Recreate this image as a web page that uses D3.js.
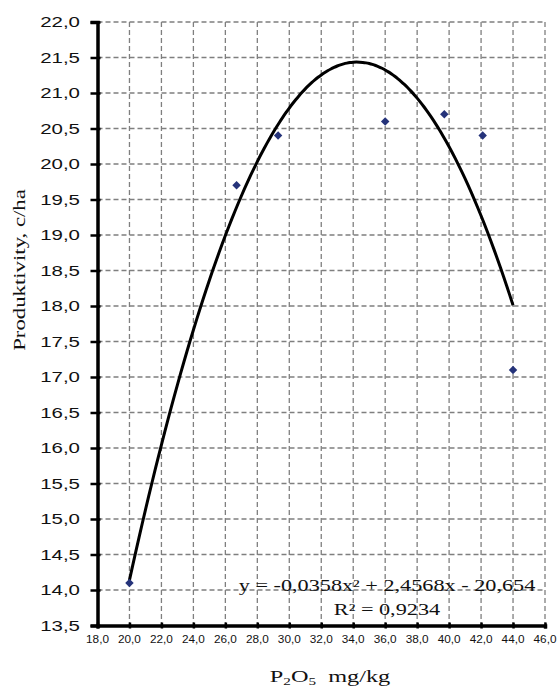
<!DOCTYPE html>
<html>
<head>
<meta charset="utf-8">
<script src="https://cdn.jsdelivr.net/npm/d3@7"></script>
<style>
  html, body { margin: 0; padding: 0; background: #fff; }
  #chart { width: 557px; height: 689px; }
  text { font-weight: normal; }
</style>
</head>
<body>
<div id="chart"></div>
<script>
// measured points: P2O5 (mg/kg) vs productivity (c/ha)
const p2o5 = [20.0, 26.7, 29.3, 36.0, 39.7, 42.1, 44.0];
const productivity = [14.1, 19.7, 20.4, 20.6, 20.7, 20.4, 17.1];

const xTicks = [18, 20, 22, 24, 26, 28, 30, 32, 34, 36, 38, 40, 42, 44, 46];
const yTicks = [13.5, 14, 14.5, 15, 15.5, 16, 16.5, 17, 17.5, 18, 18.5, 19, 19.5, 20, 20.5, 21, 21.5, 22];

const equationLines = ["y = -0,0358x² + 2,4568x - 20,654", "R² = 0,9234"];

const W = 557, H = 689;
const margin = { left: 97.5, top: 22, right: 12, bottom: 63.5 };
const innerW = W - margin.left - margin.right;
const innerH = H - margin.top - margin.bottom;

const svg = d3.select("#chart").append("svg")
  .attr("width", W)
  .attr("height", H);

const g = svg.append("g")
  .attr("transform", `translate(${margin.left},${margin.top})`);

const x = d3.scaleLinear().domain([18, 46]).range([0, innerW]);
const y = d3.scaleLinear().domain([13.5, 22]).range([innerH, 0]);

const fmt = d3.formatLocale({ decimal: ",", thousands: " ", grouping: [3], currency: ["", ""] }).format(".1f");

// dashed grid
g.selectAll("line.vgrid")
  .data(xTicks.slice(1))
  .enter().append("line")
  .attr("class", "vgrid")
  .attr("x1", d => x(d)).attr("x2", d => x(d))
  .attr("y1", 0).attr("y2", innerH)
  .attr("stroke", "#7f7f7f")
  .attr("stroke-width", 1.3)
  .attr("stroke-dasharray", "5,3");

g.selectAll("line.hgrid")
  .data(yTicks.slice(1))
  .enter().append("line")
  .attr("class", "hgrid")
  .attr("x1", 0).attr("x2", innerW)
  .attr("y1", d => y(d)).attr("y2", d => y(d))
  .attr("stroke", "#7f7f7f")
  .attr("stroke-width", 1.3)
  .attr("stroke-dasharray", "5,3");

// axes (lines + ticks only, labels drawn below)
const yAxis = g.append("g")
  .call(d3.axisLeft(y).tickValues(yTicks).tickFormat("").tickSizeOuter(0).tickSize(7));
yAxis.select(".domain").attr("stroke", "#000").attr("stroke-width", 3.5);
yAxis.selectAll(".tick line").attr("x1", 3).attr("stroke-width", 2.5);

const xAxis = g.append("g")
  .attr("transform", `translate(0,${innerH})`)
  .call(d3.axisBottom(x).tickValues(xTicks).tickFormat("").tickSizeOuter(0).tickSize(3));
xAxis.select(".domain").attr("stroke", "#000").attr("stroke-width", 3.5);
xAxis.selectAll(".tick line").attr("y1", -3).attr("stroke-width", 2.5);

// tick labels (stretched wide like the original)
g.selectAll("g.ylab")
  .data(yTicks)
  .enter().append("g")
  .attr("class", "ylab")
  .attr("transform", d => `translate(-17.5,${y(d)}) scale(1.42,1)`)
  .append("text")
  .attr("text-anchor", "end")
  .attr("dy", "0.36em")
  .style("font-family", "Arial, 'Liberation Sans', sans-serif")
  .style("font-size", "14.4px")
  .attr("fill", "#111")
  .text(d => fmt(d));

g.selectAll("g.xlab")
  .data(xTicks)
  .enter().append("g")
  .attr("class", "xlab")
  .attr("transform", d => `translate(${x(d)},${innerH + 17.5}) scale(1.1,1)`)
  .append("text")
  .attr("text-anchor", "middle")
  .style("font-family", "Arial, 'Liberation Sans', sans-serif")
  .style("font-size", "10.7px")
  .attr("fill", "#111")
  .text(d => fmt(d));

// polynomial (order 2) trendline, least squares on the points
function quadFit(xs, ys) {
  const n = xs.length;
  let s = [0, 0, 0, 0, 0], t = [0, 0, 0];
  for (let i = 0; i < n; i++) {
    for (let k = 0; k < 5; k++) s[k] += Math.pow(xs[i], k);
    for (let k = 0; k < 3; k++) t[k] += ys[i] * Math.pow(xs[i], k);
  }
  const A = [[s[0], s[1], s[2], t[0]], [s[1], s[2], s[3], t[1]], [s[2], s[3], s[4], t[2]]];
  for (let c = 0; c < 3; c++) {
    for (let r = c + 1; r < 3; r++) {
      const f = A[r][c] / A[c][c];
      for (let k = c; k < 4; k++) A[r][k] -= f * A[c][k];
    }
  }
  const b = [0, 0, 0];
  for (let r = 2; r >= 0; r--) {
    let v = A[r][3];
    for (let k = r + 1; k < 3; k++) v -= A[r][k] * b[k];
    b[r] = v / A[r][r];
  }
  return b; // c0 + c1 x + c2 x^2
}

const coef = quadFit(p2o5, productivity);
const xMin = d3.min(p2o5), xMax = d3.max(p2o5);
const trend = d3.range(0, 121).map(i => {
  const xv = xMin + (xMax - xMin) * i / 120;
  return [xv, coef[0] + coef[1] * xv + coef[2] * xv * xv];
});

g.append("path")
  .datum(trend)
  .attr("fill", "none")
  .attr("stroke", "#000")
  .attr("stroke-width", 3)
  .attr("d", d3.line().x(d => x(d[0])).y(d => y(d[1])).curve(d3.curveMonotoneX));

// data points (diamonds)
g.selectAll("path.pt")
  .data(p2o5.map((v, i) => [v, productivity[i]]))
  .enter().append("path")
  .attr("class", "pt")
  .attr("d", d3.symbol(d3.symbolSquare, 36))
  .attr("transform", d => `translate(${x(d[0])},${y(d[1])}) rotate(45)`)
  .attr("fill", "#25337a");

// equation label
g.selectAll("g.eq")
  .data(equationLines)
  .enter().append("g")
  .attr("class", "eq")
  .attr("transform", (d, i) => `translate(${387 - margin.left},${591 - margin.top + i * 24}) scale(1.39,1)`)
  .append("text")
  .attr("text-anchor", "middle")
  .style("font-family", "'Times New Roman', 'Liberation Serif', serif")
  .style("font-size", "16px")
  .attr("fill", "#111")
  .text(d => d);

// axis titles
const xt = svg.append("g")
  .attr("transform", `translate(330,682) scale(1.38,1)`)
  .append("text")
  .attr("text-anchor", "middle")
  .style("font-family", "'Times New Roman', 'Liberation Serif', serif")
  .style("font-size", "17.6px")
  .attr("fill", "#111");
xt.append("tspan").text("P");
xt.append("tspan").attr("dy", 3).style("font-size", "11px").text("2");
xt.append("tspan").attr("dy", -3).text("O");
xt.append("tspan").attr("dy", 3).style("font-size", "11px").text("5");
xt.append("tspan").attr("dy", -3).text("\u00a0 mg/kg");

svg.append("g")
  .attr("transform", "translate(24.5,270) rotate(-90) scale(1.34,1)")
  .append("text")
  .attr("text-anchor", "middle")
  .style("font-family", "'Times New Roman', 'Liberation Serif', serif")
  .style("font-size", "17px")
  .attr("fill", "#111")
  .text("Produktivity, c/ha");
</script>
</body>
</html>
